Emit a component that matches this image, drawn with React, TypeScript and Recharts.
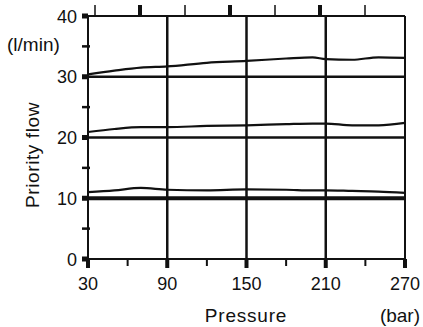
import React from "react";
import { LineChart, Line, XAxis, YAxis, ReferenceLine } from "recharts";

const PRESSURE = [30, 50, 70, 90, 120, 150, 180, 200, 210, 230, 250, 270];
const FLOW_30 = [30.4, 31.0, 31.5, 31.7, 32.3, 32.6, 33.0, 33.2, 32.9, 32.8, 33.2, 33.1];
const FLOW_20 = [20.9, 21.4, 21.7, 21.7, 21.9, 22.0, 22.2, 22.3, 22.3, 22.0, 22.0, 22.4];
const FLOW_10 = [11.0, 11.3, 11.7, 11.4, 11.3, 11.45, 11.4, 11.3, 11.3, 11.2, 11.1, 10.9];

const X_TICKS = [30, 60, 90, 120, 150, 180, 210, 240, 270];
const X_MAJOR = [30, 90, 150, 210, 270];
const Y_TICKS = [0, 5, 10, 15, 20, 25, 30, 35, 40];
const Y_MAJOR = [0, 10, 20, 30, 40];
const GRID_X = [90, 150, 210];
const GRID_Y = [10, 20, 30];
// tick marks of the chart above, cropped in the scan
const TOP_TICKS = [0, 1, 2, 3, 4, 5, 6];

const data = PRESSURE.map((p, i) => ({
  pressure: p,
  f30: FLOW_30[i],
  f20: FLOW_20[i],
  f10: FLOW_10[i],
}));

const FONT = "'Liberation Sans', Arial, sans-serif";
const INK = "#111";

const XTick = (props: any) => {
  const { x, y, payload } = props;
  const major = X_MAJOR.includes(payload.value);
  return (
    <g fontFamily={FONT} fill={INK}>
      <line x1={x} x2={x} y1={y - 17} y2={major ? y - 8 : y - 10} stroke={INK} strokeWidth={major ? 4 : 2} />
      {major && (
        <text x={x} y={y + 14} textAnchor="middle" fontSize={18}>
          {payload.value}
        </text>
      )}
      {payload.value === 270 && (
        <>
          <text x={246} y={322} textAnchor="middle" fontSize={19} letterSpacing={0.8}>
            Pressure
          </text>
          <text x={420} y={322} textAnchor="end" fontSize={19}>
            (bar)
          </text>
        </>
      )}
    </g>
  );
};

const YTick = (props: any) => {
  const { x, y, payload } = props;
  const major = Y_MAJOR.includes(payload.value);
  return (
    <g fontFamily={FONT} fill={INK}>
      {major ? (
        <rect x={x + 5} y={y - 2.5} width={6} height={5} fill={INK} />
      ) : (
        <line x1={x + 5} x2={x + 13} y1={y} y2={y} stroke={INK} strokeWidth={2.5} />
      )}
      {major && (
        <text x={x} y={y + 6.5} textAnchor="end" fontSize={18}>
          {payload.value}
        </text>
      )}
      {payload.value === 40 && (
        <>
          <text x={7} y={51} fontSize={19}>
            (l/min)
          </text>
          <text x={39} y={155} textAnchor="middle" transform="rotate(-90 39 155)" fontSize={19} letterSpacing={0.6}>
            Priority flow
          </text>
        </>
      )}
    </g>
  );
};

const TopTick = (props: any) => {
  const { x, y, payload } = props;
  const thick = payload.value % 2 === 1;
  return <line x1={x} x2={x} y1={y} y2={y + 11} stroke={INK} strokeWidth={thick ? 4 : 1.5} />;
};

export default function App() {
  return (
    <div style={{ position: "absolute", left: 0, top: 0, background: "#fff" }}>
      <LineChart width={423} height={327} data={data} margin={{ top: 15, right: 18, bottom: 0, left: 0 }}>
        <XAxis
          xAxisId="top"
          dataKey="pressure"
          orientation="top"
          type="number"
          height={1}
          domain={[-7 / 45, 310 / 45]}
          allowDataOverflow
          ticks={TOP_TICKS}
          tickLine={false}
          tickSize={11}
          tickMargin={0}
          tick={(p: any) => <TopTick {...p} />}
          axisLine={{ stroke: INK, strokeWidth: 2 }}
        />
        <XAxis
          dataKey="pressure"
          type="number"
          domain={[30, 270]}
          ticks={X_TICKS}
          height={68}
          tickLine={false}
          tickSize={9}
          tickMargin={8}
          tick={(p: any) => <XTick {...p} />}
          axisLine={{ stroke: INK, strokeWidth: 2 }}
        />
        <YAxis
          type="number"
          domain={[0, 40]}
          ticks={Y_TICKS}
          width={88}
          tickLine={false}
          tickSize={6}
          tickMargin={5}
          tick={(p: any) => <YTick {...p} />}
          axisLine={{ stroke: INK, strokeWidth: 2 }}
        />
        {GRID_Y.map((v) => (
          <ReferenceLine key={`h${v}`} y={v} stroke={INK} strokeWidth={v === 10 ? 4 : 2.5} />
        ))}
        {GRID_X.map((v) => (
          <ReferenceLine key={`v${v}`} x={v} stroke={INK} strokeWidth={2.5} />
        ))}
        <ReferenceLine x={270} stroke={INK} strokeWidth={2} />
        <Line dataKey="f30" type="monotone" stroke={INK} strokeWidth={2.2} dot={false} isAnimationActive={false} />
        <Line dataKey="f20" type="monotone" stroke={INK} strokeWidth={2.2} dot={false} isAnimationActive={false} />
        <Line dataKey="f10" type="monotone" stroke={INK} strokeWidth={2.2} dot={false} isAnimationActive={false} />
      </LineChart>
    </div>
  );
}
